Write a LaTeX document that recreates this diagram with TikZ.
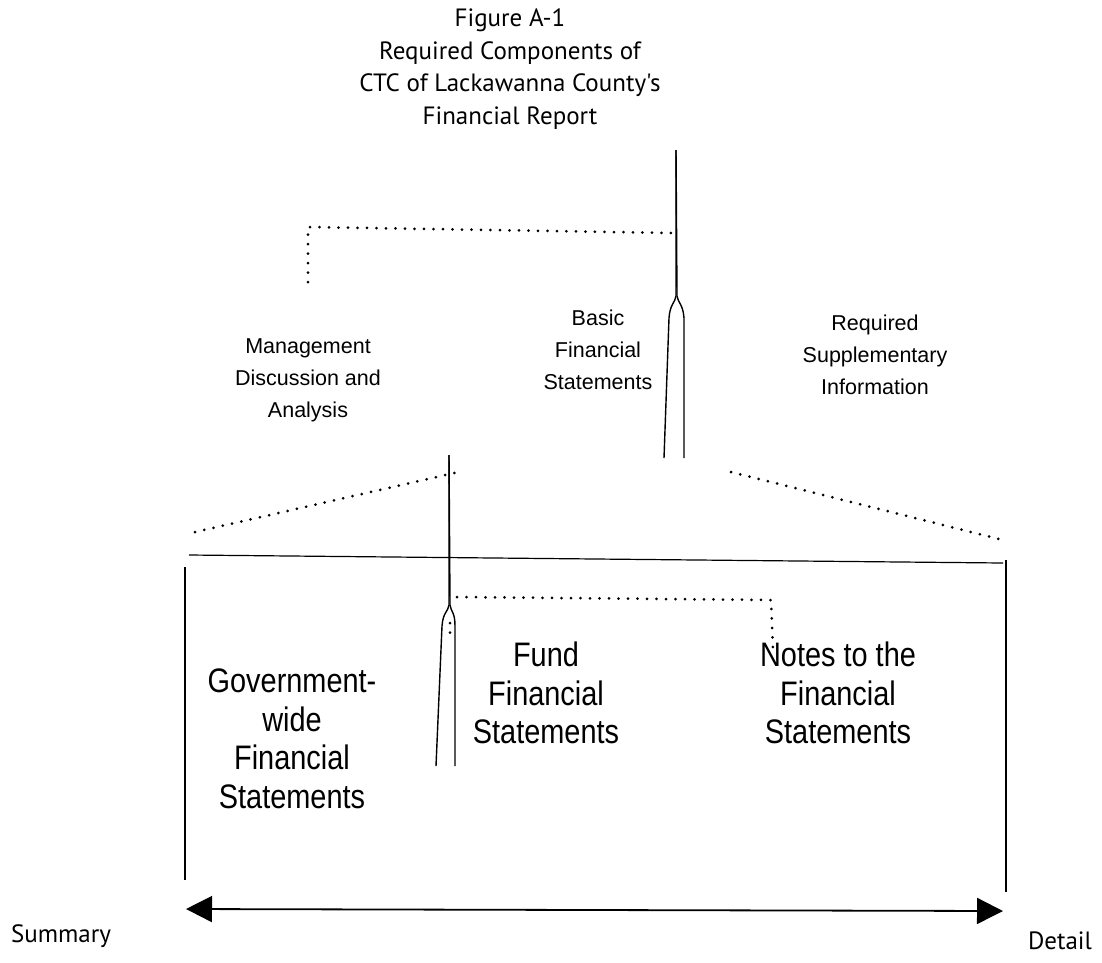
\documentclass[tikz,border=0pt]{standalone}
\usepackage{fontspec}
\setmainfont{Liberation Sans}
\newfontfamily\titlefont{PT Sans}
\newfontfamily\narrowfont[FakeStretch=0.85]{Liberation Sans}
\usetikzlibrary{positioning,arrows.meta}

\begin{document}
\begin{tikzpicture}[x=1pt, y=-1pt,
  caption/.style={font=\titlefont\fontsize{25}{32.5}\selectfont, align=center, inner sep=0pt},
  part/.style={font=\fontsize{21.5}{32}\selectfont, align=center, inner sep=0pt},
  piece/.style={font=\narrowfont\fontsize{34}{38.5}\selectfont, align=center, inner sep=0pt},
  dots/.style={line width=3pt, line cap=round, dash pattern=on 0pt off 9.5pt},
  spike/.style={line width=1.4pt},
  rule/.style={line width=1.2pt}]

\useasboundingbox (0,0) rectangle (1102,962);

% TITLE

\node [caption] (titulo) at (510,69) {Figure A-1\\Required Components of\\CTC of Lackawanna County's\\Financial Report};

% REPORT PARTS

\node [part] (mda) at (308,380) {Management\\Discussion and\\Analysis};
\node [part] (bfs) at (598,350) {Basic\\Financial\\Statements};
\node [part] (rsi) at (875,355) {Required\\Supplementary\\Information};

% UPPER SPIKE

\coordinate (spike-top) at (676,150);
\draw [spike] (spike-top) -- (676,296)
  .. controls (675,303) and (670,304) .. (669,318) -- (664,458);
\draw [spike] (spike-top) -- (677,296)
  .. controls (678,303) and (683,304) .. (684,318) -- (684,458);

\coordinate (mda-corner) at (308,227);
\coordinate (mda-end) at (308,282);
\coordinate (spike-join) at (673,233);
\draw [dots] (mda-end) -- (mda-corner) -- (spike-join);

% BASIC FINANCIAL STATEMENTS BRACKET

\coordinate (bfs-left) at (195,532);
\coordinate (bfs-left-top) at (463,471);
\coordinate (bfs-right-top) at (731,472);
\coordinate (bfs-right) at (999,539);
\draw [dots] (bfs-left) -- (bfs-left-top);
\draw [dots] (bfs-right-top) -- (bfs-right);

\coordinate (rule-left) at (189,555);
\coordinate (rule-right) at (1003,563);
\draw [rule] (rule-left) -- (rule-right);

% LOWER SPIKE

\coordinate (low-top) at (449,455);
\draw [spike] (low-top) -- (449,605)
  .. controls (448,612) and (443,612) .. (442,626) -- (436,766);
\draw [spike] (low-top) -- (450,605)
  .. controls (451,612) and (455,612) .. (455,626) -- (455,766);
\draw [dots] (450,623) -- (450,640);

\coordinate (notes-join) at (457,597);
\coordinate (notes-corner) at (771,600);
\coordinate (notes-end) at (773,650);
\draw [dots] (notes-join) -- (notes-corner) -- (notes-end);

% STATEMENTS

\node [piece] (gwfs) at (292,739) {Government-\\wide\\Financial\\Statements};
\node [piece] (ffs) at (546,693) {Fund\\Financial\\Statements};
\node [piece] (nfs) at (838,693) {Notes to the\\Financial\\Statements};

% SUMMARY - DETAIL

\coordinate (left-top) at (185,567);
\coordinate (left-bottom) at (185,880);
\coordinate (right-top) at (1006,560);
\coordinate (right-bottom) at (1006,892);
\draw [rule] (left-top) -- (left-bottom);
\draw [rule] (right-top) -- (right-bottom);

\coordinate (arrow-left) at (186,909);
\coordinate (arrow-right) at (1003,911);
\draw [line width=1.8pt, {Triangle[length=26pt,width=26pt]}-{Triangle[length=26pt,width=26pt]}] (arrow-left) -- (arrow-right);

\node [font=\titlefont\fontsize{25}{28}\selectfont, inner sep=0pt] (summary) at (61,936) {Summary};
\node [font=\titlefont\fontsize{25}{28}\selectfont, inner sep=0pt] (detail) at (1060,941) {Detail};

\end{tikzpicture}
\end{document}
